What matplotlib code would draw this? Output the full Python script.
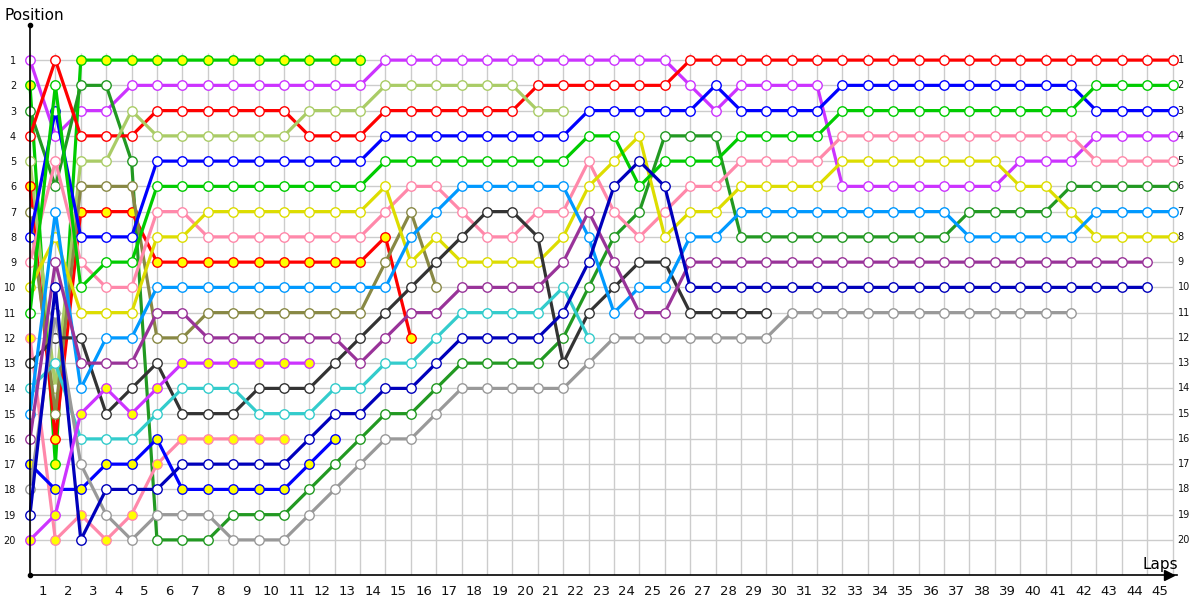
import numpy as np
import matplotlib.pyplot as plt

plt.rcParams['font.family'] = ['DejaVu Sans']

lap_labels = [str(i) for i in range(1, 46)]
positions = list(range(1, 21))

# position at the end of each lap, lap 0 = starting grid
violet_1 = [1, 4, 3, 3, 2, 2, 2, 2, 2, 2, 2, 2, 2, 2, 1, 1, 1, 1, 1, 1, 1, 1, 1, 1, 1, 1,
            2, 3, 2, 2, 2, 2, 6, 6, 6, 6, 6, 6, 6, 5, 5, 5, 4, 4, 4, 4]
green_2 = [2, 17, 1, 1, 1, 1, 1, 1, 1, 1, 1, 1, 1, 1]
dkgreen = [3, 6, 2, 2, 5, 20, 20, 20, 19, 19, 19, 18, 17, 16, 15, 15, 14, 13, 13, 13, 13, 12,
           10, 8, 7, 4, 4, 4, 8, 8, 8, 8, 8, 8, 8, 8, 8, 7, 7, 7, 7, 6, 6, 6, 6, 6]
red_1 = [4, 1, 4, 4, 4, 3, 3, 3, 3, 3, 3, 4, 4, 4, 3, 3, 3, 3, 3, 3, 2, 2, 2, 2, 2, 2] + [1] * 20
ltgreen = [5, 14, 5, 5, 3, 4, 4, 4, 4, 4, 4, 3, 3, 3, 2, 2, 2, 2, 2, 2, 3, 3]
red_2 = [6, 16, 7, 7, 7, 9, 9, 9, 9, 9, 9, 9, 9, 9, 8, 12]
olive = [7, 15, 6, 6, 6, 12, 12, 11, 11, 11, 11, 11, 11, 11, 9, 7, 10]
blue_1 = [8, 3, 8, 8, 8, 5, 5, 5, 5, 5, 5, 5, 5, 5, 4, 4, 4, 4, 4, 4, 4, 4, 3, 3, 3, 3, 3, 2,
          3, 3, 3, 3] + [2] * 10 + [3] * 4
pink_1 = [9, 5, 9, 10, 10, 7, 7, 8, 8, 8, 8, 8, 8, 8, 7, 6, 6, 7, 8, 8, 7, 7, 5, 7, 8, 7, 6, 6,
          5, 5, 5, 5] + [4] * 10 + [5] * 4
yellow = [10, 8, 11, 11, 11, 8, 8, 7, 7, 7, 7, 7, 7, 7, 6, 9, 8, 9, 9, 9, 9, 8, 6, 5, 4, 8, 7, 7,
          6, 6, 6, 6, 5, 5, 5, 5, 5, 5, 5, 6, 6, 7, 8, 8, 8, 8]
green_1 = [11, 2, 10, 9, 9, 6, 6, 6, 6, 6, 6, 6, 6, 6, 5, 5, 5, 5, 5, 5, 5, 5, 4, 4, 6, 5, 5, 5,
           4, 4, 4, 4] + [3] * 10 + [2] * 4
pink_2 = [12, 20, 19, 20, 19, 17, 16, 16, 16, 16, 16]
black = [13, 12, 12, 15, 14, 13, 15, 15, 15, 14, 14, 14, 13, 12, 11, 10, 9, 8, 7, 7, 8, 13, 11,
         10, 9, 9, 11, 11, 11, 11]
teal = [14, 13, 16, 16, 16, 15, 14, 14, 14, 15, 15, 15, 14, 14, 13, 13, 12, 11, 11, 11, 11, 10, 12]
ltblue = [15, 7, 14, 12, 12, 10, 10, 10, 10, 10, 10, 10, 10, 10, 10, 8, 7, 6, 6, 6, 6, 6, 8, 11,
          10, 10, 8, 8, 7, 7, 7, 7, 7, 7, 7, 7, 7, 8, 8, 8, 8, 8, 7, 7, 7, 7]
purple = [16, 9, 13, 13, 13, 11, 11, 12, 12, 12, 12, 12, 12, 13, 12, 11, 11, 10, 10, 10, 10, 9,
          7, 9, 11, 11] + [9] * 19
blue_2 = [17, 18, 18, 17, 17, 16, 18, 18, 18, 18, 18, 17, 16]
gray = [18, 11, 17, 19, 20, 19, 19, 19, 20, 20, 20, 19, 18, 17, 16, 16, 15, 14, 14, 14, 14, 14,
        13, 12, 12, 12, 12, 12, 12, 12] + [11] * 12
dkblue = [19, 10, 20, 18, 18, 18, 17, 17, 17, 17, 17, 16, 15, 15, 14, 14, 13, 12, 12, 12, 12, 11,
          9, 6, 5, 6] + [10] * 19
violet_2 = [20, 19, 15, 14, 15, 14, 13, 13, 13, 13, 13, 13]

drivers = [violet_1, green_2, dkgreen, red_1, ltgreen, red_2, olive, blue_1, pink_1, yellow,
           green_1, pink_2, black, teal, ltblue, purple, blue_2, gray, dkblue, violet_2]
colors = ['#cc33ff', '#00cc00', '#229922', '#ff0000', '#aacc66', '#ff0000', '#888844', '#0000ff',
          '#ff88aa', '#dddd00', '#00cc00', '#ff88aa', '#333333', '#33cccc', '#0099ff', '#993399',
          '#0000ff', '#999999', '#0000bb', '#cc33ff']
# second car of a team gets yellow markers
fills = ['white', 'yellow', 'white', 'white', 'white', 'yellow', 'white', 'white', 'white', 'white',
         'white', 'yellow', 'white', 'white', 'white', 'white', 'yellow', 'white', 'white', 'yellow']

px = 25.39
fig = plt.figure(figsize=(12, 6), dpi=100)
ax = fig.add_axes([30 / 1200, 25 / 600, 1147 / 1200, 550 / 600])
ymax = 21.39
ax.set_xlim(0, 1147 / px)
ax.set_ylim(ymax, -0.39)

# grid
ax.vlines(range(0, 46), 0.7, ymax, color='#cccccc', lw=1, zorder=0)
ax.hlines(positions, 0, 45, color='#cccccc', lw=1, zorder=0)

for pos, c, f in zip(drivers, colors, fills):
    ax.plot(range(len(pos)), pos, '-o', color=c, lw=2.3, ms=6.8, mfc=f, mec=c, mew=1,
            zorder=2, clip_on=False)

for s in ['top', 'right']:
    ax.spines[s].set_visible(False)
for s in ['left', 'bottom']:
    ax.spines[s].set_color('black')
    ax.spines[s].set_linewidth(1.2)

ax.plot(0, 1, 'o', color='black', ms=3, transform=ax.transAxes, clip_on=False)
ax.plot(0, 0, 'o', color='black', ms=3, transform=ax.transAxes, clip_on=False)
ax.plot(0.993, 0, '>', color='black', ms=7, transform=ax.transAxes, clip_on=False)

ax.set_xticks([k - 0.5 for k in range(1, 46)])
ax.set_xticklabels(lap_labels)
ax.tick_params(axis='x', length=0, pad=7, labelsize=9.5, colors='#111111')
ax.set_yticks(positions)
ax.set_yticklabels([str(p) for p in positions])
ax.tick_params(axis='y', length=0, pad=10, labelsize=7, colors='#111111')
for p in positions:
    ax.text(45.2, p, str(p), fontsize=7, color='#111111', ha='left', va='center')

fig.text(5 / 1200, 1 - 16 / 600, 'Position', fontsize=11, ha='left', va='center')
fig.text(1143 / 1200, 1 - 565 / 600, 'Laps', fontsize=11, ha='left', va='center')

fig.savefig('out.png', dpi=100)
